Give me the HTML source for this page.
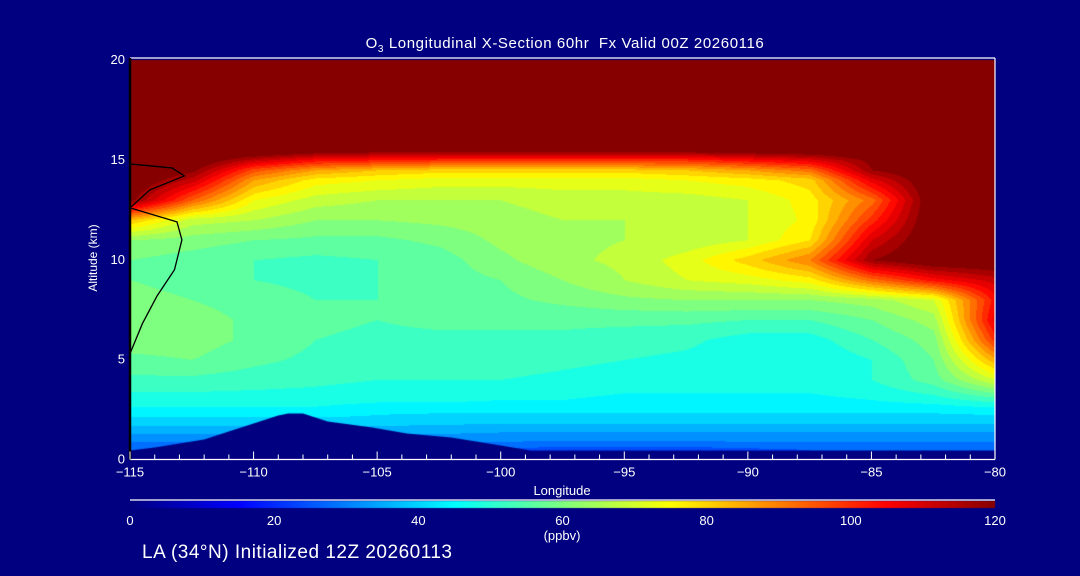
<!DOCTYPE html>
<html><head><meta charset="utf-8"><style>
html,body{margin:0;padding:0;background:#000080;}
#wrap{position:relative;width:1080px;height:576px;background:#000080;overflow:hidden;font-family:"Liberation Sans",sans-serif;color:#fff;}
.t{position:absolute;white-space:nowrap;color:#fff;}
</style></head><body>
<div id="wrap">
<div class="t" style="left:0;width:1130px;text-align:center;top:35px;font-size:15px;letter-spacing:0.6px;">O<sub style="font-size:10px">3</sub> Longitudinal X-Section 60hr&nbsp; Fx Valid 00Z 20260116</div>
<canvas id="cv" width="1080" height="576" style="position:absolute;left:0;top:0"></canvas>
<svg id="sv" width="1080" height="576" style="position:absolute;left:0;top:0"></svg>
<div class="t" style="left:93px;top:258px;font-size:12px;transform:translate(-50%,-50%) rotate(-90deg);">Altitude (km)</div>
<div class="t" style="left:562px;top:483px;font-size:13px;transform:translateX(-50%);">Longitude</div>
<div class="t" style="left:562px;top:528px;font-size:13px;transform:translateX(-50%);">(ppbv)</div>
<div class="t" style="left:142px;top:542px;font-size:19px;letter-spacing:0.5px;">LA (34°N) Initialized 12Z 20260113</div>
</div>
<script>
const lons=[-115,-112.5,-110,-107.5,-105,-102.5,-100,-97.5,-95,-92.5,-90,-87.5,-85,-82.5,-80];
const alts=[20,19,18,17,16,15.4,15,14.5,14,13,12,11,10,9,8,7,6,5,4,3,2.5,2,1.5,1,0.5];
const R125=[125,125,125,125,125,125,125,125,125,125,125,125,125,125,125];
const ozone=[
R125,R125,R125,R125,R125,
[125,125,125,120,118,118,118,118,118,118,120,122,125,125,125],
[125,125,112,104,102,100,100,100,100,100,104,108,120,125,125],
[125,120,96,86,82,80,80,80,80,82,86,92,118,125,125],
[125,112,86,76,74,72,72,72,72,74,76,80,108,125,125],
[120,94,74,68,66,66,66,68,68,68,70,76,92,125,125],
[82,68,66,62,62,63,64,66,66,66,70,75,100,125,125],
[62,60,58,57,57,59,63,65,66,67,70,78,110,125,125],
[58,56,54,53,54,56,61,65,67,72,80,90,118,125,125],
[58,56,54,53,54,56,58,62,66,70,72,76,92,104,112],
[60,58,56,54,54,55,57,59,61,62,62,62,64,70,104],
[60,60,57,55,54,55,55,55,55,55,54,54,58,64,108],
[60,60,57,54,53,53,53,53,52,51,48,48,54,60,100],
[57,58,55,53,52,52,52,51,50,49,47,46,50,58,85],
[53,53,52,51,50,50,50,49,48,48,48,48,50,56,70],
[48,48,48,48,47,47,46,46,45,45,45,45,46,48,52],
[45,45,45,45,43,43,43,43,43,43,43,43,43,43,44],
[41,41,41,41,41,40,40,40,40,40,40,40,40,40,40],
[36,36,36,36,36,36,35,35,35,35,35,35,35,35,35],
[31,31,31,31,31,31,31,31,31,31,31,31,31,31,31],
[27,27,27,27,27,26,25,24,24,24,25,26,27,27,27]];
const terrainLon=[-115,-114,-112,-111,-110,-109,-108.6,-108,-107,-105.2,-103.8,-102,-100,-98.8,-80];
const terrainAlt=[0.45,0.6,1.0,1.4,1.8,2.2,2.3,2.3,1.9,1.6,1.3,1.1,0.7,0.45,0.45];
const contourLon=[-115,-113.3,-112.8,-114.2,-115,-113.1,-112.9,-113.2,-113.9,-114.5,-115];
const contourAlt=[14.8,14.6,14.2,13.5,12.6,11.9,11.0,9.5,8.2,6.8,5.3];
const xTicks=[-115,-110,-105,-100,-95,-90,-85,-80];
const yTicks=[0,5,10,15,20];
const cbTicks=[0,20,40,60,80,100,120];

const X0=130,X1=995,Y0=459.5,KM=19.97;
const xs=l=>X0+(l-(-115))/35*(X1-X0);
const ys=a=>Y0-a*KM;
function jet(v){let t=Math.max(0,Math.min(1,v/120));let r,g,b;
 if(t<0.125){r=0;g=0;b=0.5+t/0.125*0.5}
 else if(t<0.375){r=0;g=(t-0.125)/0.25;b=1}
 else if(t<0.625){r=(t-0.375)/0.25;g=1;b=1-r}
 else if(t<0.875){r=1;g=1-(t-0.625)/0.25;b=0}
 else{r=1-(t-0.875)/0.125*0.47;g=0;b=0}
 return [r*255|0,g*255|0,b*255|0];}
function sample(lon,alt){
 let i=0;while(i<lons.length-2&&lon>lons[i+1])i++;
 let fx=(lon-lons[i])/(lons[i+1]-lons[i]);fx=Math.max(0,Math.min(1,fx));
 let j=0;while(j<alts.length-2&&alt<alts[j+1])j++;
 let fy=(alts[j]-alt)/(alts[j]-alts[j+1]);fy=Math.max(0,Math.min(1,fy));
 const a=ozone[j][i],b=ozone[j][i+1],c=ozone[j+1][i],d=ozone[j+1][i+1];
 return (a*(1-fx)+b*fx)*(1-fy)+(c*(1-fx)+d*fx)*fy;}
const cv=document.getElementById('cv');const ctx=cv.getContext('2d');
const img=ctx.createImageData(X1-X0,Math.ceil(Y0-ys(20)));
for(let py=0;py<img.height;py++){const alt=(Y0-(ys(20)+py))/KM;
 for(let px=0;px<img.width;px++){const lon=-115+px/(X1-X0)*35;
  let v=sample(lon,alt);v=Math.round(v/4)*4;const c=alt<0.45?[0,0,128]:jet(v);
  const k=(py*img.width+px)*4;img.data[k]=c[0];img.data[k+1]=c[1];img.data[k+2]=c[2];img.data[k+3]=255;}}
ctx.putImageData(img,X0,Math.round(ys(20)));
ctx.fillStyle='#000080';ctx.beginPath();ctx.moveTo(xs(-115),Y0+1);
terrainLon.forEach((l,k)=>ctx.lineTo(xs(l),ys(terrainAlt[k])));ctx.lineTo(X1,Y0+1);ctx.closePath();ctx.fill();
const grd=ctx.createLinearGradient(X0,0,X1,0);
for(let k=0;k<=24;k++){const c=jet(k*5);grd.addColorStop(k/24,`rgb(${c[0]},${c[1]},${c[2]})`);}
ctx.fillStyle=grd;ctx.fillRect(X0,501,X1-X0,7);
const NS='http://www.w3.org/2000/svg',sv=document.getElementById('sv');
function el(t,a){const e=document.createElementNS(NS,t);for(const k in a)e.setAttribute(k,a[k]);sv.appendChild(e);return e;}
let e;
e=el('line',{x1:X0,y1:58,x2:X1,y2:58,stroke:'#fff','stroke-width':1.2});


e=el('line',{x1:X1,y1:58,x2:X1,y2:Y0,stroke:'#fff','stroke-width':1.2});


e=el('line',{x1:X0,y1:Y0,x2:X1,y2:Y0,stroke:'#fff','stroke-width':1.2});


e=el('line',{x1:X0,y1:58,x2:X0,y2:Y0,stroke:'#000','stroke-width':2.5});


e=el('line',{x1:X0,y1:500,x2:X1,y2:500,stroke:'#fff','stroke-width':1.2});


for(let l=-115;l<=-80;l++){const major=l%5===0;
 e=el('line',{x1:xs(l),y1:Y0,x2:xs(l),y2:Y0-(major?8:5),stroke:'#fff','stroke-width':1});
 
 }
xTicks.forEach(l=>{e=el('text',{x:xs(l),y:Y0+17,fill:'#fff','font-size':13,'text-anchor':'middle','font-family':'Liberation Sans, sans-serif'});
 e.textContent=String(l).replace('-','\u2212');
 
 });
yTicks.forEach(a=>{e=el('text',{x:X0-5,y:ys(a)+4,fill:'#fff','font-size':13,'text-anchor':'end','font-family':'Liberation Sans, sans-serif'});
 e.textContent=a;
 
 });
cbTicks.forEach(v=>{e=el('text',{x:X0+v/120*(X1-X0),y:525,fill:'#fff','font-size':13,'text-anchor':'middle','font-family':'Liberation Sans, sans-serif'});
 e.textContent=v;
 
 });
e=el('polyline',{points:contourLon.map((l,k)=>xs(l)+','+ys(contourAlt[k])).join(' '),fill:'none',stroke:'#000','stroke-width':1.3});


</script>
</body></html>
